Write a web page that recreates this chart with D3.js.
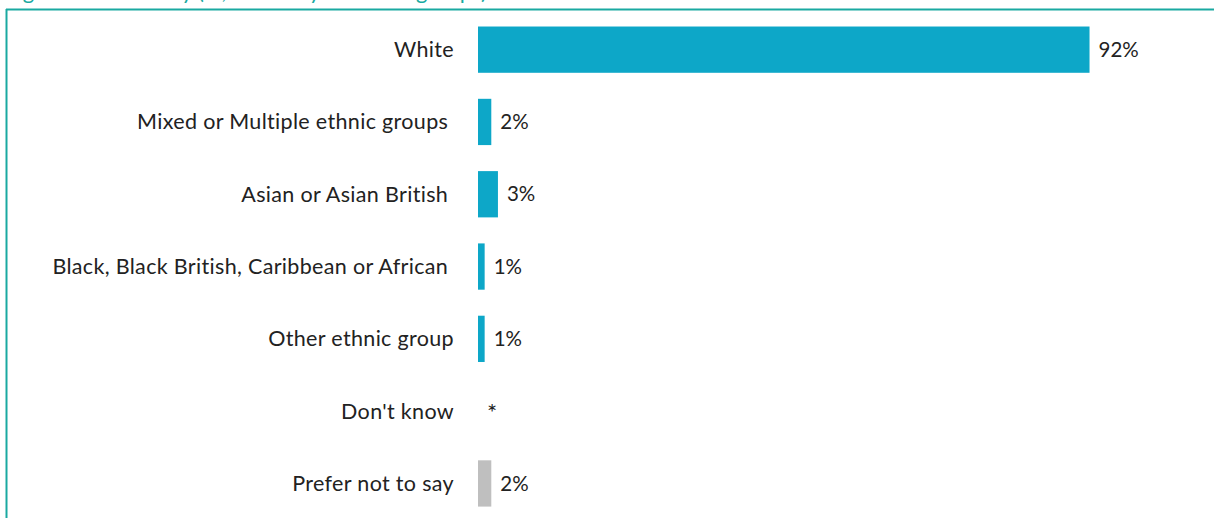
<!DOCTYPE html>
<html>
<head>
<meta charset="utf-8">
<script src="https://cdn.jsdelivr.net/npm/d3@7"></script>
<style>
  html, body { margin: 0; padding: 0; background: #ffffff; }
  svg { display: block; }
  text { font-family: Lato, "Noto Sans", sans-serif; }
</style>
</head>
<body>
<script>
// Ethnicity breakdown, share of respondents
const categories = [
  "White",
  "Mixed or Multiple ethnic groups ",
  "Asian or Asian British ",
  "Black, Black British, Caribbean or African ",
  "Other ethnic group",
  "Don't know",
  "Prefer not to say"
];
const values = [92, 2, 3, 1, 1, null, 2];
const valueLabels = ["92%", "2%", "3%", "1%", "1%", "*", "2%"];
const barGroups = ["main", "main", "main", "main", "main", "none", "refused"];
const titleText = "Figure 12: Ethnicity (%, summary of ethnic groups)";

const width = 1214, height = 518;
const colors = { main: "#0da7c8", refused: "#bfbfbf", none: "#bfbfbf" };
const frameColor = "#1aa9a1";
const labelSize = "21.5px";

const svg = d3.select("body").append("svg")
  .attr("width", width)
  .attr("height", height);

// Title, sitting above the frame's top edge
svg.append("text")
  .attr("x", 5)
  .attr("y", -1)
  .attr("fill", frameColor)
  .style("font-size", "22px")
  .text(titleText);

// Frame: top rule and left rule
svg.append("line")
  .attr("x1", 6).attr("x2", width)
  .attr("y1", 9.5).attr("y2", 9.5)
  .attr("stroke", frameColor).attr("stroke-width", 2);
svg.append("line")
  .attr("x1", 6.5).attr("x2", 6.5)
  .attr("y1", 9).attr("y2", height)
  .attr("stroke", frameColor).attr("stroke-width", 2);

const rows = categories.map((c, i) => ({
  category: c,
  value: values[i],
  label: valueLabels[i],
  group: barGroups[i]
}));

const y = d3.scaleBand()
  .domain(categories)
  .range([13.5, 519.6])
  .paddingInner(0.36)
  .paddingOuter(0.18);

const x = d3.scaleLinear()
  .domain([0, 100])
  .range([478, 478 + 664.7]);

// Category labels to the left of the bars
const yAxis = d3.axisLeft(y).tickSize(0).tickPadding(0);
const axisG = svg.append("g")
  .attr("transform", `translate(454,0)`)
  .call(yAxis);
axisG.select(".domain").remove();
axisG.selectAll("text")
  .attr("fill", "#222222")
  .style("font-size", labelSize)
  .style("letter-spacing", "0.33px")
  .style("font-family", "Lato, 'Noto Sans', sans-serif")
  .style("white-space", "pre")
  .attr("dy", "0.35em");

// Bars
svg.append("g").selectAll("rect")
  .data(rows.filter(d => d.value != null))
  .join("rect")
  .attr("x", x(0))
  .attr("y", d => y(d.category))
  .attr("width", d => x(d.value) - x(0))
  .attr("height", y.bandwidth())
  .attr("fill", d => colors[d.group]);

// Value labels at the end of each bar
svg.append("g").selectAll("text")
  .data(rows)
  .join("text")
  .attr("x", d => x(d.value == null ? 0 : d.value) + 9)
  .attr("y", d => y(d.category) + y.bandwidth() / 2)
  .attr("dy", d => d.value == null ? "0.4em" : "0.35em")
  .attr("fill", "#222222")
  .style("font-size", d => d.value == null ? "24px" : "20.5px")
  .text(d => d.label);
</script>
</body>
</html>
